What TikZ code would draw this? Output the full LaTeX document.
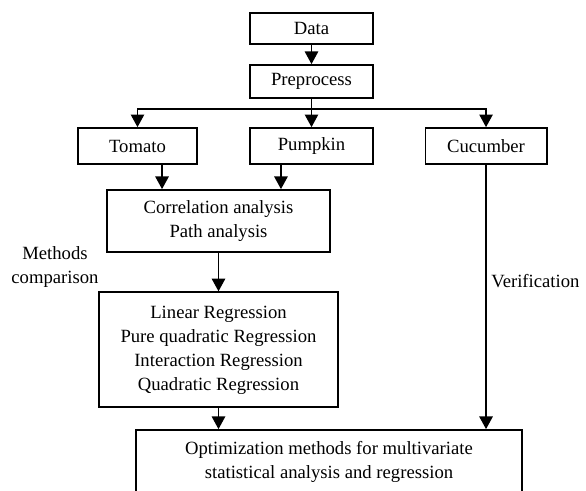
\documentclass[tikz,border=0pt]{standalone}
\usepackage{fontspec}
\setmainfont{Liberation Serif}
\usetikzlibrary{arrows.meta}
\tikzset{
    stage/.style={
           rectangle,
           draw=black, line width=1.3pt,
           minimum width=91pt,
           minimum height=27pt,
           inner sep=2pt,
           text centered
           },
}

\begin{document}
\begin{tikzpicture}[x=0.75pt,y=-0.75pt,-{Triangle[width=10pt,length=9.5pt]},line width=1.3pt,
    font=\fontsize{14}{18}\selectfont]

             \clip (0,0) rectangle (586,490);

             \node[stage, minimum width=92pt, minimum height=23.25pt] (Data) at (311.5,28.5) {Data};

             \node[stage,
              below of=Data,
              node distance=39.75pt,
              anchor=center,
              minimum width=92pt, minimum height=24.75pt] (Pre) {Preprocess};

             \node[stage, below of=Pre, node distance=48.4pt, anchor=center, minimum width=92pt] (Pum) {Pumpkin};
             \node[stage, left of=Pum, node distance=130.5pt, anchor=center, minimum width=89pt] (Tom) {Tomato};
             \node[stage, right of=Pum, node distance=130.9pt, anchor=center] (Cuc) {Cucumber};

             \coordinate[below of=Pre, node distance=20.6pt] (bus);

             \node[stage, minimum width=167pt, minimum height=46.5pt] (Corr) at (218.5,221)
             {\begin{tabular}{c}
              Correlation analysis\\
              Path analysis
              \end{tabular}};

             \node[stage,
              below of=Corr,
              node distance=96.4pt,
              anchor=center,
              minimum width=179pt, minimum height=86pt] (Reg)
             {%
             \begin{tabular}{c}
              Linear Regression\\
              Pure quadratic Regression\\
              Interaction Regression\\
              Quadratic Regression
             \end{tabular}
             };

             \node[stage, minimum width=289.5pt, minimum height=48pt] (Opt) at (329,462)
             {%
             \begin{tabular}{c}
              Optimization methods for multivariate\\
              statistical analysis and regression
             \end{tabular}
             };

             \node (Meth) at (55,267)
             {\begin{tabular}{c}
              Methods\\
              comparison
              \end{tabular}};

             \draw (Data) -- (Pre);

             % split after preprocessing
             \draw[-] (Pre) -- (bus);
             \draw (bus) -| (Tom);
             \draw (bus) -- (Pum);
             \draw (bus) -| (Cuc);

             \draw ([xshift=18.4pt]Tom.south) -- ([xshift=18.4pt]Tom.south |- Corr.north);
             \draw ([xshift=-22.9pt]Pum.south) -- ([xshift=-22.9pt]Pum.south |- Corr.north);
             \draw (Corr) -- (Reg);
             \draw (Reg.south) -- (Reg.south |- Opt.north);
             \draw (Cuc) -- node[right, pos=0.44] {Verification} (Cuc |- Opt.north);

\end{tikzpicture}
\end{document}
